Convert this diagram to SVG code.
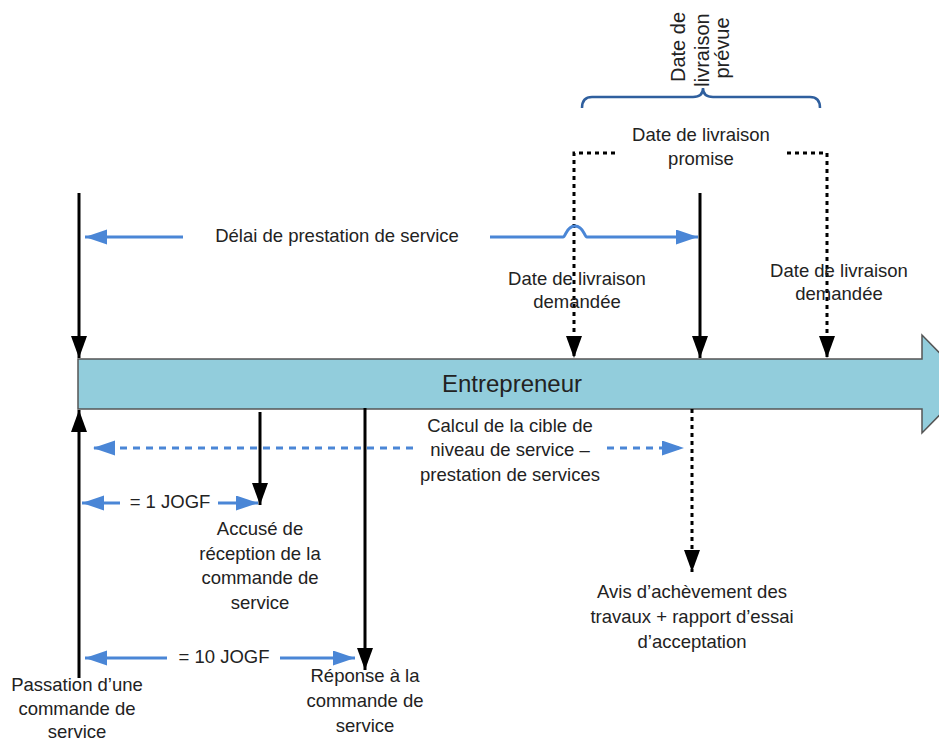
<svg xmlns="http://www.w3.org/2000/svg" width="939" height="742" viewBox="0 0 939 742">
<style>
text{font-family:"Liberation Sans",Arial,sans-serif;font-size:18.5px;fill:#222;text-anchor:middle}
.big{font-size:24px}
.rot{font-size:20px}
.blk{stroke:#000;stroke-width:3;fill:none}
.dot{stroke:#000;stroke-width:3;fill:none;stroke-dasharray:4 4}
.blu{stroke:#4a86d6;stroke-width:3;fill:none}
.bdash{stroke:#4a86d6;stroke-width:3;fill:none;stroke-dasharray:7 6}
</style>
<defs>
<marker id="ab" markerUnits="userSpaceOnUse" markerWidth="24" markerHeight="18" refX="22" refY="8" orient="auto"><path d="M0,0 L22,8 L0,16 z" fill="#000"/></marker>
<marker id="au" markerUnits="userSpaceOnUse" markerWidth="24" markerHeight="18" refX="22" refY="7.5" orient="auto"><path d="M0,0 L22,7.5 L0,15 z" fill="#4a86d6"/></marker>
</defs>
<rect width="939" height="742" fill="#fff"/>
<g id="timeline">
<path d="M78,359 H922 V335 L970,384 L922,433 V409 H78 Z" fill="#92cddc" stroke="#555" stroke-width="1.5"/>
<text class="big" x="512" y="392">Entrepreneur</text>
</g>
<g id="connectors">
<line class="blk" x1="79" y1="193" x2="79" y2="358" marker-end="url(#ab)"/>
<line class="blk" x1="79" y1="678" x2="79" y2="410" marker-end="url(#ab)"/>
<line class="blk" x1="700" y1="193" x2="700" y2="358" marker-end="url(#ab)"/>
<path class="dot" d="M615,153 H574 V358" marker-end="url(#ab)"/>
<path class="dot" d="M787,153 H827 V358" marker-end="url(#ab)"/>
<line class="dot" x1="692" y1="409" x2="692" y2="572" marker-end="url(#ab)"/>
<line class="blk" x1="260" y1="412" x2="260" y2="505" marker-end="url(#ab)"/>
<line class="blk" x1="365" y1="408" x2="365" y2="670" marker-end="url(#ab)"/>
<line class="blu" x1="183" y1="237" x2="85" y2="237" marker-end="url(#au)"/>
<path class="blu" d="M490,237 H563 C566,237 566,226 575,226 C584,226 584,237 587,237 H698" marker-end="url(#au)"/>
<line class="bdash" x1="413" y1="448" x2="93" y2="448" marker-end="url(#au)"/>
<line class="bdash" x1="607" y1="448" x2="684" y2="448" marker-end="url(#au)"/>
<line class="blu" x1="120" y1="503" x2="82" y2="503" marker-end="url(#au)"/>
<line class="blu" x1="218" y1="503" x2="258" y2="503" marker-end="url(#au)"/>
<line class="blu" x1="167" y1="658" x2="85" y2="658" marker-end="url(#au)"/>
<line class="blu" x1="280" y1="658" x2="355" y2="658" marker-end="url(#au)"/>
<path d="M582,108 Q582,97 592,97 H693 Q703,97 703,88 Q703,97 713,97 H810 Q820,97 820,108" fill="none" stroke="#2f5f9e" stroke-width="2.5"/>
</g>
<g id="prevue">
<text class="rot" transform="rotate(-90 685 47)" x="685" y="47">Date de</text>
<text class="rot" transform="rotate(-90 709 50)" x="709" y="50">livraison</text>
<text class="rot" transform="rotate(-90 729 48)" x="729" y="48">prévue</text>
</g>
<g id="promise">
<text x="701" y="141">Date de livraison</text>
<text x="701" y="165">promise</text>
</g>
<g id="delai"><text x="337" y="242">Délai de prestation de service</text></g>
<g id="demandee1">
<text x="577" y="285">Date de livraison</text>
<text x="577" y="308">demandée</text>
</g>
<g id="demandee2">
<text x="839" y="277">Date de livraison</text>
<text x="839" y="300">demandée</text>
</g>
<g id="calcul">
<text x="510" y="432">Calcul de la cible de</text>
<text x="510" y="456">niveau de service –</text>
<text x="510" y="481">prestation de services</text>
</g>
<g id="jogf1"><text x="170" y="508">= 1 JOGF</text></g>
<g id="jogf10"><text x="224" y="663">= 10 JOGF</text></g>
<g id="accuse">
<text x="260" y="535">Accusé de</text>
<text x="260" y="560">réception de la</text>
<text x="260" y="584">commande de</text>
<text x="260" y="609">service</text>
</g>
<g id="reponse">
<text x="365" y="682">Réponse à la</text>
<text x="365" y="707">commande de</text>
<text x="365" y="732">service</text>
</g>
<g id="passation">
<text x="77" y="691">Passation d’une</text>
<text x="77" y="715">commande de</text>
<text x="77" y="738">service</text>
</g>
<g id="avis">
<text x="692" y="598">Avis d’achèvement des</text>
<text x="692" y="623">travaux + rapport d’essai</text>
<text x="692" y="648">d’acceptation</text>
</g>
</svg>
